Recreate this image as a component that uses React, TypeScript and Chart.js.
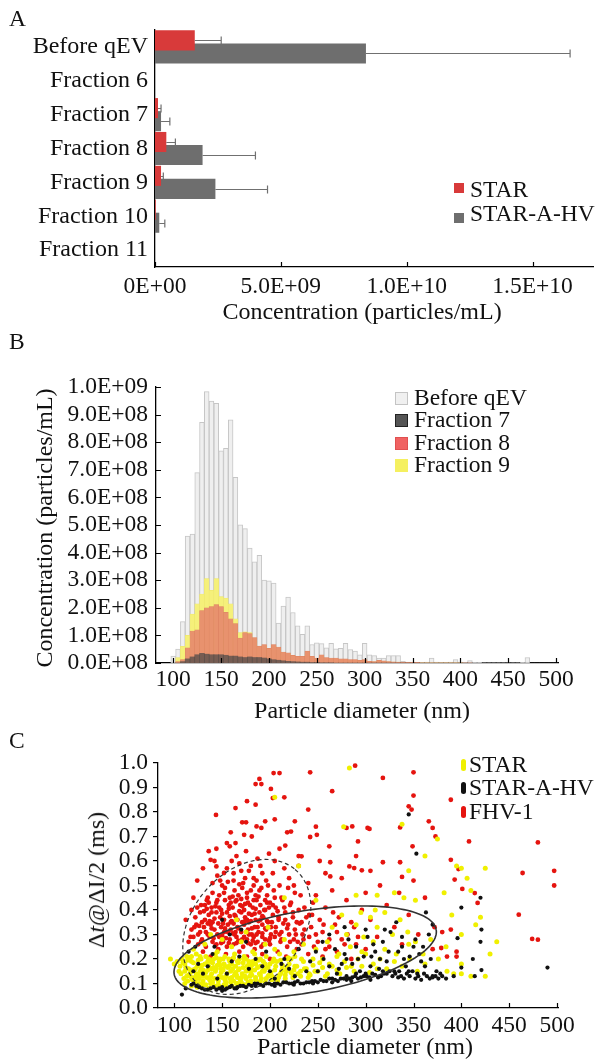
import React, { useEffect, useRef } from 'react';
import { Chart, registerables } from 'chart.js';

Chart.register(...registerables);

const FONT = '"Liberation Serif", "Times New Roman", serif';

// ---------------- Panel A ----------------
const aCategories = ['Before qEV', 'Fraction 6', 'Fraction 7', 'Fraction 8', 'Fraction 9', 'Fraction 10', 'Fraction 11'];
const aStar = [1.58e9, 0, 0.12e9, 0.45e9, 0.24e9, 0.03e9, 0];
const aStarErr = [1.05e9, 0, 0.12e9, 0.36e9, 0.09e9, 0, 0];
const aHv = [8.38e9, 0, 0.24e9, 1.89e9, 2.4e9, 0.17e9, 0];
const aHvErr = [8.11e9, 0, 0.35e9, 2.1e9, 2.07e9, 0.22e9, 0];
const aTickValues = [0, 5e9, 1e10, 1.5e10];
const aTickLabels = ['0E+00', '5.0E+09', '1.0E+10', '1.5E+10'];

// ---------------- Panel B (values in units of 1E+08) ----------------
const bBins = [
  100, 105, 110, 115, 120, 125, 130, 135, 140, 145,
  150, 155, 160, 165, 170, 175, 180, 185, 190, 195,
  200, 205, 210, 215, 220, 225, 230, 235, 240, 245,
  250, 255, 260, 265, 270, 275, 280, 285, 290, 295,
  300, 305, 310, 315, 320, 325, 330, 335, 340, 345,
  350, 355, 360, 365, 370, 375, 380, 385, 390, 395,
  400, 405, 410, 415, 420, 425, 430, 435, 440, 445,
  450, 455, 460, 465, 470, 475, 480, 485, 490, 495,
  500,
];
const bBeforeQEV = [
  0.25, 0.5, 1.5, 4.6, 4.67, 6.9, 8.72, 9.83, 9.49, 9.41,
  7.69, 7.78, 8.81, 6.73, 5.01, 4.87, 4.16, 3.67, 3.9, 3.0,
  2.98, 2.9, 1.45, 2.06, 2.39, 1.83, 1.35, 1.04, 1.35, 0.67,
  0.73, 0.7, 0.55, 0.71, 0.51, 0.53, 0.71, 0.49, 0.43, 0.3,
  0.71, 0.3, 0.27, 0.18, 0.18, 0.27, 0.27, 0.27, 0.06, 0.03,
  0.03, 0.02, 0.02, 0.03, 0.18, 0.03, 0.02, 0.02, 0.03, 0.12,
  0.03, 0.02, 0.09, 0.02, 0.02, 0.01, 0.01, 0.01, 0.01, 0.01,
  0.01, 0.01, 0.01, 0.02, 0.2, 0, 0, 0, 0, 0,
  0,
];
const bFraction7 = [
  0, 0, 0.05, 0.15, 0.22, 0.3, 0.35, 0.32, 0.3, 0.3,
  0.3, 0.28, 0.25, 0.25, 0.22, 0.2, 0.22, 0.2, 0.2, 0.18,
  0.15, 0.12, 0.1, 0.08, 0.06, 0.05, 0.04, 0.03, 0.03, 0.02,
  0.02, 0.01, 0.01, 0.01, 0, 0, 0, 0, 0, 0,
  0, 0, 0, 0, 0, 0, 0, 0, 0, 0,
  0, 0, 0, 0, 0, 0, 0, 0, 0, 0,
  0, 0, 0, 0, 0, 0, 0, 0, 0, 0,
  0, 0, 0, 0, 0, 0, 0, 0, 0, 0,
  0,
];
const bFraction8 = [
  0, 0.05, 0.12, 0.55, 1.16, 1.2, 1.9, 2.0, 2.04, 2.12,
  2.04, 1.84, 1.6, 1.43, 0.9, 1.1, 1.07, 0.92, 0.61, 0.67,
  0.53, 0.67, 0.58, 0.4, 0.37, 0.28, 0.24, 0.24, 0.43, 0.24,
  0.18, 0.3, 0.2, 0.18, 0.18, 0.15, 0.15, 0.12, 0.12, 0.1,
  0.12, 0.06, 0.05, 0.1, 0.08, 0.05, 0.04, 0.03, 0.03, 0.02,
  0.02, 0.02, 0.01, 0.01, 0.01, 0.01, 0.01, 0.01, 0.01, 0.01,
  0.01, 0.01, 0.01, 0, 0, 0, 0, 0, 0, 0,
  0, 0, 0, 0, 0, 0, 0, 0, 0, 0,
  0,
];
const bFraction9 = [
  0, 0.2, 0.6, 1.0, 1.77, 2.14, 2.5, 3.06, 2.63, 3.06,
  2.41, 2.35, 2.14, 1.6, 1.1, 1.13, 1.1, 0.8, 0.6, 0.6,
  0.5, 0.6, 0.5, 0.38, 0.33, 0.26, 0.22, 0.2, 0.3, 0.2,
  0.16, 0.22, 0.15, 0.15, 0.14, 0.12, 0.12, 0.1, 0.1, 0.08,
  0.1, 0.05, 0.04, 0.06, 0.05, 0.04, 0.03, 0.03, 0.02, 0.02,
  0.02, 0.01, 0.01, 0.01, 0.01, 0.01, 0.01, 0.01, 0.01, 0.01,
  0.01, 0, 0, 0, 0, 0, 0, 0, 0, 0,
  0, 0, 0, 0, 0, 0, 0, 0, 0, 0,
  0,
];
const bXTicks = [100, 150, 200, 250, 300, 350, 400, 450, 500];
const bYTickValues = [0, 1e8, 2e8, 3e8, 4e8, 5e8, 6e8, 7e8, 8e8, 9e8, 1e9];
const bYTickLabels = ['0.0E+08', '1.0E+08', '2.0E+08', '3.0E+08', '4.0E+08', '5.0E+08', '6.0E+08', '7.0E+08', '8.0E+08', '9.0E+08', '1.0E+09'];

// ---------------- Panel C (pairs: diameter nm, dwell ms) ----------------
const cFHV1 = [
  203.8, 0.959, 210, 0.959, 201, 0.894, 185, 0.914, 191, 0.914, 189, 0.935, 203, 0.857, 143.6, 0.788,
  176, 0.844, 185, 0.83, 164, 0.816, 186, 0.741, 175, 0.758, 171, 0.758, 195, 0.762, 159, 0.717,
  155, 0.673, 164, 0.673, 173, 0.707, 181, 0.7, 191, 0.735, 218, 0.717, 226, 0.762, 240, 0.81,
  249, 0.707, 242, 0.698, 233, 0.619, 216, 0.663, 144, 0.65, 138, 0.605, 144, 0.578, 152, 0.551,
  262, 0.66, 263, 0.595, 263, 0.537, 242, 0.962, 265, 0.885, 289, 0.989, 286, 0.741, 280, 0.735,
  302, 0.735, 304, 0.731, 292, 0.68, 283, 0.578, 288, 0.571, 296, 0.562, 318, 0.939, 336, 0.737,
  350, 0.962, 350, 0.867, 345, 0.823, 348, 0.81, 336, 0.595, 338, 0.535, 318, 0.595, 349, 0.66,
  366, 0.762, 370, 0.735, 373, 0.7, 389, 0.85, 389, 0.605, 397, 0.567, 393, 0.524, 408, 0.68,
  401, 0.486, 414, 0.469, 417, 0.429, 480, 0.676, 464, 0.551, 497, 0.56, 497, 0.5, 460, 0.381,
  474, 0.282, 480, 0.279, 389, 0.32, 379, 0.245, 395, 0.21, 372, 0.33,
  148, 0.52, 155, 0.57, 162, 0.55, 168, 0.59, 172, 0.51, 178, 0.56, 183, 0.53, 190, 0.58,
  196, 0.52, 203, 0.55, 210, 0.5, 165, 0.62, 175, 0.64, 187, 0.61, 158, 0.66, 199, 0.63,
  142, 0.6, 220, 0.53, 230, 0.58, 240, 0.51, 226, 0.47,
  140, 0.47, 147, 0.46, 153, 0.49, 158, 0.45, 163, 0.48, 167, 0.46, 171, 0.49, 176, 0.45,
  180, 0.48, 185, 0.46, 191, 0.49, 197, 0.46, 204, 0.48, 212, 0.45, 219, 0.49, 135, 0.45,
  128, 0.42, 134, 0.44, 139, 0.41, 144, 0.43, 149, 0.4, 153, 0.44, 157, 0.42, 161, 0.41,
  165, 0.44, 169, 0.42, 173, 0.4, 177, 0.43, 182, 0.41, 186, 0.44, 190, 0.42, 195, 0.4,
  200, 0.43, 206, 0.41, 213, 0.44, 221, 0.42, 230, 0.4, 245, 0.43,
  122, 0.37, 127, 0.39, 132, 0.36, 136, 0.38, 140, 0.35, 144, 0.39, 148, 0.37, 152, 0.36,
  155, 0.39, 159, 0.35, 163, 0.38, 166, 0.36, 170, 0.39, 174, 0.37, 178, 0.35, 181, 0.38,
  185, 0.36, 189, 0.39, 193, 0.37, 198, 0.35, 203, 0.38, 209, 0.36, 216, 0.39, 224, 0.37,
  233, 0.35, 241, 0.38, 252, 0.36,
  118, 0.32, 123, 0.34, 127, 0.31, 131, 0.33, 135, 0.3, 138, 0.34, 142, 0.32, 145, 0.3,
  149, 0.33, 152, 0.31, 156, 0.34, 159, 0.32, 163, 0.3, 166, 0.33, 170, 0.31, 173, 0.34,
  177, 0.32, 181, 0.3, 184, 0.33, 188, 0.31, 192, 0.34, 196, 0.32, 201, 0.3, 206, 0.33,
  212, 0.31, 219, 0.34, 226, 0.32, 234, 0.3, 243, 0.33, 255, 0.31, 268, 0.34, 281, 0.3,
  115, 0.27, 120, 0.29, 125, 0.26, 129, 0.28, 133, 0.25, 137, 0.29, 140, 0.27, 144, 0.26,
  147, 0.29, 151, 0.27, 155, 0.25, 158, 0.28, 162, 0.26, 165, 0.29, 169, 0.27, 172, 0.25,
  176, 0.28, 180, 0.26, 183, 0.29, 187, 0.27, 191, 0.25, 195, 0.28, 200, 0.26, 205, 0.29,
  211, 0.27, 218, 0.25, 225, 0.28, 233, 0.26, 241, 0.29, 250, 0.27, 262, 0.25, 275, 0.28, 290, 0.26,
  130, 0.23, 138, 0.21, 146, 0.24, 154, 0.22, 161, 0.2, 168, 0.23, 176, 0.21, 184, 0.24,
  192, 0.22, 200, 0.2, 208, 0.23, 217, 0.21, 228, 0.24, 240, 0.22, 255, 0.21, 270, 0.23, 285, 0.2, 300, 0.24,
  248, 0.46, 258, 0.41, 265, 0.48, 272, 0.37, 280, 0.44, 288, 0.33, 296, 0.4, 305, 0.36,
  312, 0.29, 322, 0.42, 330, 0.33, 338, 0.26, 345, 0.38, 355, 0.3, 362, 0.45, 370, 0.24,
  380, 0.31, 258, 0.55, 275, 0.53, 300, 0.47, 315, 0.5, 252, 0.6, 290, 0.62, 305, 0.56,
  335, 0.47, 350, 0.52, 385, 0.21, 395, 0.23, 210, 0.65, 230, 0.62, 222, 0.72, 205, 0.77,
  215, 0.86, 248, 0.74, 120, 0.45, 124, 0.52, 130, 0.57, 136, 0.64, 118, 0.4, 112, 0.36,
  143, 0.415, 150, 0.385, 157, 0.405, 164, 0.375, 171, 0.415, 178, 0.385, 185, 0.405, 192, 0.375,
  199, 0.41, 146, 0.345, 153, 0.325, 160, 0.355, 167, 0.325, 174, 0.355, 181, 0.325, 188, 0.355,
  195, 0.325, 202, 0.35, 150, 0.295, 157, 0.265, 164, 0.31, 171, 0.28, 178, 0.3, 185, 0.265,
  192, 0.305, 199, 0.275, 134, 0.405, 139, 0.325, 129, 0.35, 125, 0.3, 208, 0.395, 214, 0.345,
  220, 0.3, 228, 0.35, 236, 0.41, 161, 0.455, 176, 0.47, 188, 0.455, 168, 0.505, 156, 0.515,
  183, 0.5, 195, 0.44,
  126, 0.335, 131, 0.395, 137, 0.355, 141, 0.285, 145, 0.44, 149, 0.265, 152, 0.47, 156, 0.31,
  159, 0.43, 162, 0.345, 165, 0.265, 168, 0.395, 170, 0.445, 173, 0.29, 176, 0.36, 179, 0.42,
  182, 0.275, 184, 0.385, 187, 0.33, 189, 0.48, 192, 0.29, 194, 0.4, 197, 0.355, 200, 0.285,
  203, 0.42, 206, 0.31, 209, 0.37, 212, 0.28, 215, 0.41, 218, 0.325, 221, 0.27, 224, 0.39,
  227, 0.3, 231, 0.345, 235, 0.28, 238, 0.37, 142, 0.365, 147, 0.41, 151, 0.345, 154, 0.285,
  158, 0.375, 161, 0.305, 164, 0.435, 167, 0.275, 171, 0.35, 174, 0.425, 177, 0.265, 180, 0.355,
  183, 0.44, 186, 0.3, 190, 0.36, 193, 0.26, 197, 0.43, 201, 0.33, 205, 0.45, 210, 0.3,
  216, 0.36, 222, 0.43, 229, 0.27, 236, 0.32, 128, 0.27, 133, 0.31, 136, 0.43, 139, 0.39,
  143, 0.255, 135, 0.345, 132, 0.42, 121, 0.33, 124, 0.41, 117, 0.29, 150, 0.5, 162, 0.52,
  174, 0.53, 186, 0.52, 198, 0.5, 145, 0.54, 170, 0.56, 192, 0.55, 160, 0.6, 180, 0.58,
  205, 0.6, 215, 0.57, 140, 0.51, 225, 0.5, 232, 0.46, 244, 0.38, 248, 0.3, 256, 0.34,
  262, 0.28, 270, 0.31, 278, 0.26, 266, 0.39, 285, 0.35, 292, 0.29, 246, 0.25, 258, 0.24,
];
const cSTAR = [
  108, 0.2, 113, 0.21, 118, 0.19, 123, 0.22, 128, 0.2, 133, 0.21, 138, 0.19, 143, 0.22,
  148, 0.2, 153, 0.21, 158, 0.19, 163, 0.22, 168, 0.2, 173, 0.21, 178, 0.19, 184, 0.22,
  190, 0.2, 196, 0.21, 203, 0.19, 210, 0.22, 218, 0.2, 226, 0.21, 235, 0.19, 245, 0.2,
  106, 0.17, 111, 0.18, 115, 0.16, 120, 0.185, 124, 0.17, 128, 0.16, 132, 0.18, 136, 0.17,
  140, 0.185, 144, 0.16, 148, 0.175, 152, 0.18, 156, 0.165, 160, 0.18, 164, 0.17, 168, 0.16,
  172, 0.185, 176, 0.17, 180, 0.16, 185, 0.18, 190, 0.17, 195, 0.16, 200, 0.18, 206, 0.17,
  213, 0.16, 220, 0.18, 228, 0.17, 236, 0.16, 245, 0.175, 255, 0.165,
  107, 0.14, 111, 0.15, 115, 0.135, 119, 0.155, 123, 0.14, 127, 0.15, 131, 0.13, 135, 0.155,
  139, 0.14, 143, 0.15, 147, 0.13, 151, 0.155, 155, 0.14, 159, 0.15, 163, 0.135, 167, 0.155,
  171, 0.14, 175, 0.15, 179, 0.13, 184, 0.155, 189, 0.14, 194, 0.15, 199, 0.135, 205, 0.155,
  211, 0.14, 217, 0.15, 224, 0.135, 232, 0.15, 241, 0.14, 250, 0.15, 260, 0.14, 270, 0.155,
  110, 0.12, 114, 0.11, 118, 0.125, 122, 0.105, 126, 0.12, 130, 0.11, 134, 0.125, 138, 0.1,
  142, 0.12, 146, 0.11, 150, 0.125, 154, 0.105, 158, 0.12, 162, 0.11, 166, 0.125, 170, 0.105,
  175, 0.12, 180, 0.11, 185, 0.125, 190, 0.11, 196, 0.12, 202, 0.115, 209, 0.125, 216, 0.12,
  224, 0.125, 232, 0.13, 240, 0.125,
  118, 0.09, 124, 0.085, 130, 0.095, 136, 0.08, 142, 0.09, 148, 0.085, 154, 0.095, 160, 0.09,
  166, 0.1, 173, 0.095, 180, 0.1,
  112, 0.165, 117, 0.145, 121, 0.125, 125, 0.195, 129, 0.175, 133, 0.145, 137, 0.115, 141, 0.2,
  145, 0.175, 149, 0.145, 153, 0.115, 157, 0.2, 161, 0.16, 165, 0.135, 169, 0.115, 173, 0.2,
  177, 0.155, 181, 0.135, 186, 0.2, 192, 0.15, 198, 0.13, 204, 0.2, 212, 0.15, 222, 0.2,
  120, 0.24, 132, 0.26, 145, 0.23, 150, 0.28, 160, 0.25, 170, 0.27, 182, 0.23, 195, 0.26,
  205, 0.24, 215, 0.28, 225, 0.23, 235, 0.26, 248, 0.24, 260, 0.27, 272, 0.22, 284, 0.25,
  296, 0.23, 308, 0.27, 320, 0.24, 332, 0.22, 345, 0.26, 138, 0.3, 175, 0.31, 198, 0.33, 165, 0.36,
  255, 0.2, 262, 0.18, 270, 0.21, 278, 0.19, 285, 0.17, 292, 0.2, 300, 0.22, 308, 0.18,
  315, 0.2, 322, 0.16, 330, 0.19, 338, 0.17, 346, 0.2, 354, 0.15, 362, 0.18, 280, 0.3,
  290, 0.34, 298, 0.29, 305, 0.37, 312, 0.33, 320, 0.39, 328, 0.3, 336, 0.36, 344, 0.31,
  352, 0.27, 360, 0.22, 368, 0.28, 376, 0.2, 384, 0.25, 392, 0.14, 400, 0.18, 310, 0.4,
  295, 0.39, 265, 0.33, 275, 0.38,
  283, 0.98, 277, 0.74, 338, 0.75, 340, 0.45, 352, 0.44, 330, 0.47, 312, 0.46, 375, 0.69,
  382, 0.47, 395, 0.58, 400, 0.57, 406, 0.53, 425, 0.57, 410, 0.48, 420, 0.37, 390, 0.38,
  415, 0.34, 437, 0.27, 430, 0.22, 425, 0.13, 410, 0.13, 385, 0.15, 400, 0.14, 362, 0.62,
  290, 0.46, 345, 0.56, 248, 0.44, 400, 0.3, 230, 0.58, 205, 0.86, 215, 0.45, 100, 0.18, 96, 0.2,
  109, 0.185, 113, 0.13, 116, 0.205, 119, 0.115, 122, 0.16, 125, 0.135, 127, 0.21, 130, 0.155,
  133, 0.095, 135, 0.19, 138, 0.13, 141, 0.165, 144, 0.205, 146, 0.095, 149, 0.16, 151, 0.2,
  154, 0.13, 157, 0.17, 159, 0.105, 162, 0.205, 164, 0.145, 167, 0.185, 170, 0.125, 172, 0.165,
  175, 0.2, 177, 0.105, 180, 0.145, 182, 0.19, 185, 0.115, 187, 0.165, 190, 0.135, 193, 0.19,
  195, 0.105, 198, 0.165, 201, 0.145, 204, 0.12, 207, 0.19, 210, 0.135, 213, 0.175, 216, 0.135,
  219, 0.205, 222, 0.145, 226, 0.17, 229, 0.14, 233, 0.2, 238, 0.16, 242, 0.135, 118, 0.21,
  123, 0.12, 129, 0.13, 136, 0.2, 140, 0.105, 147, 0.19, 153, 0.17, 160, 0.125, 166, 0.19,
  174, 0.13, 181, 0.175, 188, 0.195, 195, 0.18, 202, 0.13, 211, 0.195, 218, 0.165, 111, 0.1,
  114, 0.195, 126, 0.1, 139, 0.16, 152, 0.095, 165, 0.1, 178, 0.18, 191, 0.12, 208, 0.11,
  225, 0.155, 247, 0.15, 252, 0.185, 258, 0.13, 265, 0.17, 273, 0.14, 280, 0.165, 288, 0.15,
  296, 0.17, 304, 0.145, 312, 0.16, 103, 0.19, 105, 0.15,
];
const cSTARAHV = [
  108, 0.055, 112, 0.08, 120, 0.1, 126, 0.085, 132, 0.075, 138, 0.08, 144, 0.075, 150, 0.085,
  155, 0.08, 160, 0.09, 166, 0.085, 172, 0.09, 178, 0.095, 184, 0.1, 190, 0.095, 196, 0.1,
  202, 0.095, 208, 0.1, 214, 0.105, 220, 0.1, 226, 0.105, 232, 0.1, 238, 0.105, 244, 0.11,
  250, 0.105, 256, 0.11, 262, 0.12, 268, 0.115, 274, 0.12, 280, 0.115, 286, 0.125, 292, 0.12,
  298, 0.13, 304, 0.125, 310, 0.135, 316, 0.13, 322, 0.14, 328, 0.13, 334, 0.125, 340, 0.12,
  346, 0.13, 352, 0.12, 358, 0.115, 364, 0.13, 370, 0.125, 376, 0.12, 150, 0.07, 165, 0.08,
  185, 0.09, 205, 0.09, 225, 0.095, 245, 0.1, 265, 0.105, 285, 0.11, 305, 0.115,
  115, 0.23, 122, 0.25, 130, 0.14, 140, 0.22, 150, 0.36, 158, 0.3, 170, 0.32, 175, 0.27,
  185, 0.2, 192, 0.17, 200, 0.15, 212, 0.18, 220, 0.16, 230, 0.24, 238, 0.15, 160, 0.19,
  145, 0.12, 120, 0.15, 135, 0.17,
  250, 0.15, 256, 0.2, 262, 0.17, 268, 0.24, 272, 0.16, 278, 0.22, 282, 0.28, 286, 0.18,
  290, 0.25, 294, 0.15, 298, 0.21, 302, 0.29, 305, 0.17, 310, 0.23, 314, 0.16, 318, 0.27,
  322, 0.19, 326, 0.31, 330, 0.15, 334, 0.23, 338, 0.29, 342, 0.17, 346, 0.21, 350, 0.25,
  354, 0.14, 358, 0.19, 362, 0.17, 366, 0.3, 370, 0.34, 374, 0.15, 262, 0.3, 278, 0.33,
  300, 0.32, 315, 0.2, 345, 0.15, 356, 0.22, 300, 0.14, 318, 0.15, 335, 0.15, 290, 0.14,
  280, 0.13, 270, 0.14,
  345, 0.79, 353, 0.63, 363, 0.39, 400, 0.41, 420, 0.45, 421, 0.32, 420, 0.27, 490, 0.165,
  412, 0.2, 414, 0.13, 421, 0.155, 392, 0.13, 400, 0.165, 396, 0.285, 384, 0.12, 378, 0.14,
  370, 0.13, 280, 0.2,
  118, 0.095, 123, 0.09, 129, 0.08, 135, 0.075, 141, 0.085, 147, 0.08, 153, 0.075, 158, 0.085,
  163, 0.08, 169, 0.09, 175, 0.085, 181, 0.09, 187, 0.1, 193, 0.09, 199, 0.1, 205, 0.1,
  211, 0.095, 217, 0.105, 223, 0.1, 229, 0.11, 235, 0.1, 241, 0.105, 247, 0.11, 253, 0.115,
  259, 0.11, 265, 0.12, 271, 0.11, 277, 0.12, 283, 0.12, 289, 0.13, 295, 0.125, 301, 0.13,
  307, 0.14, 313, 0.125, 319, 0.14, 325, 0.15, 331, 0.14, 337, 0.13, 343, 0.14, 349, 0.15,
  355, 0.13, 361, 0.14, 367, 0.12, 373, 0.13, 380, 0.13,
  125, 0.18, 142, 0.25, 155, 0.14, 168, 0.21, 178, 0.16, 196, 0.23, 205, 0.12, 215, 0.2,
  226, 0.13, 242, 0.19, 248, 0.23, 255, 0.27, 275, 0.18, 292, 0.2, 308, 0.26, 324, 0.23,
  340, 0.2, 352, 0.28, 360, 0.25, 368, 0.2, 338, 0.25, 320, 0.32, 332, 0.35, 306, 0.21,
];
const cXTicks = [100, 150, 200, 250, 300, 350, 400, 450, 500];
const cYTickValues = [0, 0.1, 0.2, 0.3, 0.4, 0.5, 0.6, 0.7, 0.8, 0.9, 1.0];
const cYTickLabels = ['0.0', '0.1', '0.2', '0.3', '0.4', '0.5', '0.6', '0.7', '0.8', '0.9', '1.0'];
// ellipses in data units: centre (nm, ms), conjugate semi-axis vectors U and V (nm, ms)
const cSolidEllipse = [236.8, 0.2286, 136.9, 0.0906, 7.12, -0.1646];
const cDashedEllipse = [175.8, 0.331, 50.4, 0.2346, 44.0, -0.1443];

// ---------------- helpers ----------------
const pairs = (a: number[]) => {
  const r: { x: number; y: number }[] = [];
  for (let i = 0; i + 1 < a.length; i += 2) r.push({ x: a[i], y: a[i + 1] });
  return r;
};
const hist = (vals: number[]) => bBins.map((b, i) => ({ x: b, y: vals[i] * 1e8 }));

const tickFont = { family: FONT, size: 23.5 };
const catFont = { family: FONT, size: 24 };
const axisBorder = { display: true, color: '#000', width: 1.3 };

function inTicksPlugin(id: string, doX: boolean, doY: boolean, len: number) {
  return {
    id,
    afterDraw(chart: any) {
      const { ctx, chartArea } = chart;
      ctx.save();
      ctx.strokeStyle = '#000';
      ctx.lineWidth = 1.2;
      ctx.beginPath();
      if (doX) {
        const xs = chart.scales.x;
        xs.ticks.forEach((t: any) => {
          const px = Math.round(xs.getPixelForValue(t.value)) + 0.5;
          ctx.moveTo(px, chartArea.bottom);
          ctx.lineTo(px, chartArea.bottom - len);
        });
      }
      if (doY) {
        const ys = chart.scales.y;
        ys.ticks.forEach((t: any) => {
          const py = Math.round(ys.getPixelForValue(t.value)) + 0.5;
          ctx.moveTo(chartArea.left, py);
          ctx.lineTo(chartArea.left + len, py);
        });
      }
      ctx.stroke();
      ctx.restore();
    },
  };
}

const errBarsPlugin = {
  id: 'errBars',
  afterDatasetsDraw(chart: any) {
    const { ctx } = chart;
    const xs = chart.scales.x;
    const sets = [aStarErr, aHvErr];
    ctx.save();
    ctx.strokeStyle = '#707070';
    ctx.lineWidth = 1.2;
    sets.forEach((errs, di) => {
      const meta = chart.getDatasetMeta(di);
      const vals = chart.data.datasets[di].data as number[];
      meta.data.forEach((bar: any, i: number) => {
        const e = errs[i];
        if (!e) return;
        const x0 = xs.getPixelForValue(vals[i]);
        const x1 = xs.getPixelForValue(vals[i] + e);
        const y = Math.round(bar.y) + 0.5;
        ctx.beginPath();
        ctx.moveTo(x0, y);
        ctx.lineTo(x1, y);
        ctx.moveTo(x1, y - 4);
        ctx.lineTo(x1, y + 4);
        ctx.stroke();
      });
    });
    ctx.restore();
  },
};

const ellipsePlugin = {
  id: 'ellipses',
  afterDatasetsDraw(chart: any) {
    const { ctx } = chart;
    const xs = chart.scales.x;
    const ys = chart.scales.y;
    const draw = (e: number[], dash: number[], width: number) => {
      const [cx, cy, ux, uy, vx, vy] = e;
      ctx.save();
      ctx.strokeStyle = '#333';
      ctx.lineWidth = width;
      ctx.setLineDash(dash);
      ctx.beginPath();
      const n = 160;
      for (let k = 0; k <= n; k++) {
        const t = (k / n) * Math.PI * 2;
        const x = cx + ux * Math.cos(t) + vx * Math.sin(t);
        const y = cy + uy * Math.cos(t) + vy * Math.sin(t);
        const px = xs.getPixelForValue(x);
        const py = ys.getPixelForValue(y);
        if (k === 0) ctx.moveTo(px, py);
        else ctx.lineTo(px, py);
      }
      ctx.stroke();
      ctx.restore();
    };
    draw(cSolidEllipse, [], 1.6);
    draw(cDashedEllipse, [4, 3], 1.2);
  },
};

function Label({ x, y, children, size = 23.5, align = 'left', rotate = false }: any) {
  const tx = align === 'center' ? '-50%' : align === 'right' ? '-100%' : '0';
  return (
    <div
      style={{
        position: 'absolute',
        left: x,
        top: y,
        fontSize: size,
        lineHeight: 1,
        whiteSpace: 'nowrap',
        transform: `translate(${tx}, -50%)${rotate ? ' rotate(-90deg)' : ''}`,
      }}
    >
      {children}
    </div>
  );
}

function Swatch({ x, y, w, h, bg, border, radius = 0 }: any) {
  return (
    <div
      style={{
        position: 'absolute',
        left: x,
        top: y,
        width: w,
        height: h,
        background: bg,
        border: border || 'none',
        borderRadius: radius,
        boxSizing: 'border-box',
      }}
    />
  );
}

export default function App() {
  const refA = useRef<HTMLCanvasElement>(null);
  const refB = useRef<HTMLCanvasElement>(null);
  const refC = useRef<HTMLCanvasElement>(null);

  useEffect(() => {
    const chartA = new Chart(refA.current as HTMLCanvasElement, {
      type: 'bar',
      data: {
        labels: aCategories,
        datasets: [
          { label: 'STAR', data: aStar, backgroundColor: '#d83a3a', barPercentage: 1.54, categoryPercentage: 0.77 },
          { label: 'STAR-A-HV', data: aHv, backgroundColor: '#6e6e6e', barPercentage: 1.54, categoryPercentage: 0.77 },
        ],
      },
      options: {
        indexAxis: 'y',
        responsive: false,
        animation: false,
        devicePixelRatio: 1,
        layout: { padding: { top: 30, right: 5, left: 0, bottom: 0 } },
        plugins: { legend: { display: false }, tooltip: { enabled: false } },
        scales: {
          x: {
            type: 'linear',
            min: 0,
            max: 1.74e10,
            afterBuildTicks: (s: any) => {
              s.ticks = aTickValues.map((v) => ({ value: v }));
            },
            afterFit: (s: any) => {
              s.height = 53;
            },
            grid: { display: false, drawTicks: false },
            border: axisBorder,
            ticks: {
              font: tickFont,
              color: '#111',
              padding: 6,
              maxRotation: 0,
              autoSkip: false,
              callback: (v: any) => aTickLabels[aTickValues.indexOf(Number(v))],
            },
          },
          y: {
            afterFit: (s: any) => {
              s.width = 155;
            },
            grid: { display: false, drawTicks: false },
            border: axisBorder,
            ticks: { font: catFont, color: '#111', padding: 7, autoSkip: false },
          },
        },
      } as any,
      plugins: [inTicksPlugin('inTicksA', true, false, 5), errBarsPlugin],
    });

    const chartB = new Chart(refB.current as HTMLCanvasElement, {
      type: 'bar',
      data: {
        datasets: [
          { label: 'Fraction 7', data: hist(bFraction7), backgroundColor: 'rgba(70,70,70,0.7)', borderWidth: 0, grouped: false, order: 0, barPercentage: 1, categoryPercentage: 1 },
          { label: 'Fraction 8', data: hist(bFraction8), backgroundColor: '#e8926e', borderColor: '#dc8360', borderWidth: 0.5, grouped: false, order: 1, barPercentage: 1, categoryPercentage: 1 },
          { label: 'Fraction 9', data: hist(bFraction9), backgroundColor: '#f5f07a', borderColor: '#ece46a', borderWidth: 0.5, grouped: false, order: 2, barPercentage: 1, categoryPercentage: 1 },
          { label: 'Before qEV', data: hist(bBeforeQEV), backgroundColor: '#efefef', borderColor: '#c6c6c6', borderWidth: 1, grouped: false, order: 3, barPercentage: 1, categoryPercentage: 1 },
        ],
      } as any,
      options: {
        responsive: false,
        animation: false,
        devicePixelRatio: 1,
        layout: { padding: { top: 67, right: 40, left: 0, bottom: 0 } },
        plugins: { legend: { display: false }, tooltip: { enabled: false } },
        scales: {
          x: {
            type: 'linear',
            min: 82,
            max: 502,
            offset: false,
            afterBuildTicks: (s: any) => {
              s.ticks = bXTicks.map((v) => ({ value: v }));
            },
            afterFit: (s: any) => {
              s.height = 57;
            },
            grid: { display: false, drawTicks: false, offset: false },
            border: axisBorder,
            ticks: { font: tickFont, color: '#111', padding: 3, maxRotation: 0, autoSkip: false },
          },
          y: {
            type: 'linear',
            min: 0,
            max: 1e9,
            afterBuildTicks: (s: any) => {
              s.ticks = bYTickValues.map((v) => ({ value: v }));
            },
            afterFit: (s: any) => {
              s.width = 156;
            },
            grid: { display: false, drawTicks: false },
            border: axisBorder,
            ticks: {
              font: tickFont,
              color: '#111',
              padding: 8,
              autoSkip: false,
              callback: (v: any) => bYTickLabels[bYTickValues.indexOf(Number(v))],
            },
          },
        },
      } as any,
      plugins: [inTicksPlugin('inTicksB', true, true, 5)],
    });

    const chartC = new Chart(refC.current as HTMLCanvasElement, {
      type: 'scatter',
      data: {
        datasets: [
          { label: 'STAR', data: pairs(cSTAR), backgroundColor: '#f0f000', pointRadius: 2.5, pointBorderWidth: 0, order: 1 },
          { label: 'STAR-A-HV', data: pairs(cSTARAHV), backgroundColor: '#111111', pointRadius: 2.1, pointBorderWidth: 0, order: 0 },
          { label: 'FHV-1', data: pairs(cFHV1), backgroundColor: '#e5140f', pointRadius: 2.4, pointBorderWidth: 0, order: 2 },
        ],
      },
      options: {
        responsive: false,
        animation: false,
        devicePixelRatio: 1,
        layout: { padding: { top: 43, right: 40, left: 0, bottom: 0 } },
        plugins: { legend: { display: false }, tooltip: { enabled: false } },
        scales: {
          x: {
            type: 'linear',
            min: 83,
            max: 501,
            afterBuildTicks: (s: any) => {
              s.ticks = cXTicks.map((v) => ({ value: v }));
            },
            afterFit: (s: any) => {
              s.height = 55;
            },
            grid: { display: false, drawTicks: false },
            border: axisBorder,
            ticks: { font: tickFont, color: '#111', padding: 4, maxRotation: 0, autoSkip: false },
          },
          y: {
            type: 'linear',
            min: 0,
            max: 1,
            afterBuildTicks: (s: any) => {
              s.ticks = cYTickValues.map((v) => ({ value: v }));
            },
            afterFit: (s: any) => {
              s.width = 158;
            },
            grid: { display: true, drawOnChartArea: false, drawTicks: true, tickLength: 5, color: '#000', lineWidth: 1.2 },
            border: axisBorder,
            ticks: {
              font: tickFont,
              color: '#111',
              padding: 5,
              autoSkip: false,
              callback: (v: any) => cYTickLabels[cYTickValues.indexOf(Number(v))],
            },
          },
        },
      } as any,
      plugins: [inTicksPlugin('inTicksC', true, false, 5), ellipsePlugin],
    });

    return () => {
      chartA.destroy();
      chartB.destroy();
      chartC.destroy();
    };
  }, []);

  return (
    <div
      style={{
        position: 'absolute',
        left: 0,
        top: 0,
        width: 598,
        height: 1063,
        overflow: 'hidden',
        background: '#fff',
        color: '#111',
        fontFamily: FONT,
      }}
    >
      <canvas ref={refA} width={598} height={320} style={{ position: 'absolute', left: 0, top: 0 }} />
      <canvas ref={refB} width={598} height={400} style={{ position: 'absolute', left: 0, top: 320 }} />
      <canvas ref={refC} width={598} height={343} style={{ position: 'absolute', left: 0, top: 720 }} />

      {/* Panel A */}
      <Label x={9} y={19}>A</Label>
      <Label x={362} y={311} size={24} align="center">Concentration (particles/mL)</Label>
      <Swatch x={454} y={183} w={10} h={10} bg="#d83a3a" />
      <Label x={470} y={190}>STAR</Label>
      <Swatch x={454} y={213} w={10} h={10} bg="#6e6e6e" />
      <Label x={470} y={214}>STAR-A-HV</Label>

      {/* Panel B */}
      <Label x={9} y={342}>B</Label>
      <Label x={44} y={528} size={24} align="center" rotate>Concentration (particles/mL)</Label>
      <Label x={362} y={710} size={24} align="center">Particle diameter (nm)</Label>
      <Swatch x={395} y={392} w={13} h={13} bg="#f0f0f0" border="1px solid #c4c4c4" />
      <Label x={414} y={398}>Before qEV</Label>
      <Swatch x={395} y={414} w={13} h={13} bg="#555" border="1px solid #222" />
      <Label x={414} y={420}>Fraction 7</Label>
      <Swatch x={395} y={437} w={13} h={13} bg="#f06262" border="1px solid #e05050" />
      <Label x={414} y={443}>Fraction 8</Label>
      <Swatch x={395} y={459} w={13} h={13} bg="#f5f060" />
      <Label x={414} y={465}>Fraction 9</Label>

      {/* Panel C */}
      <Label x={9} y={741}>C</Label>
      <Label x={96} y={880} size={24} align="center" rotate>
        Δ<i>t</i>@ΔI/2 (ms)
      </Label>
      <Label x={365} y={1046} size={24} align="center">Particle diameter (nm)</Label>
      <Swatch x={461} y={759} w={5} h={12} bg="#f0f000" radius={3} />
      <Label x={469} y={765}>STAR</Label>
      <Swatch x={461} y={782} w={5} h={12} bg="#111" radius={3} />
      <Label x={469} y={788}>STAR-A-HV</Label>
      <Swatch x={461} y={806} w={5} h={12} bg="#e5140f" radius={3} />
      <Label x={469} y={812}>FHV-1</Label>
    </div>
  );
}
